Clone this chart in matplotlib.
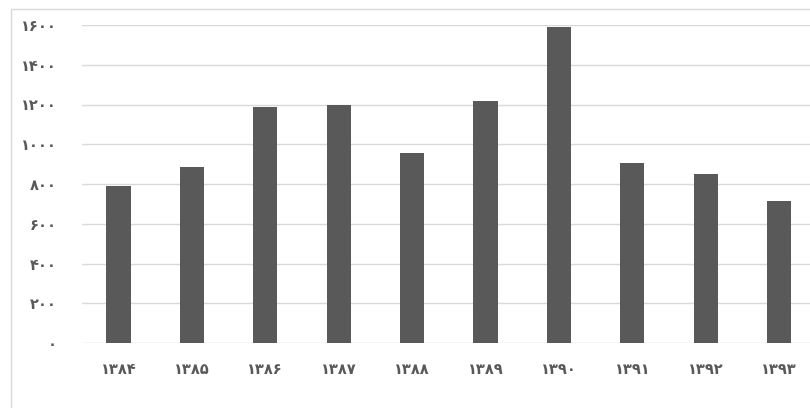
import matplotlib.pyplot as plt
from matplotlib.patches import Rectangle

# سال‌ها و مقادیر
years = ['۱۳۸۴', '۱۳۸۵', '۱۳۸۶', '۱۳۸۷', '۱۳۸۸', '۱۳۸۹', '۱۳۹۰', '۱۳۹۱', '۱۳۹۲', '۱۳۹۳']
values = [790, 886, 1185, 1197, 955, 1218, 1592, 905, 851, 715]
y_ticks = [0, 200, 400, 600, 800, 1000, 1200, 1400, 1600]
y_tick_labels = ['۰', '۲۰۰', '۴۰۰', '۶۰۰', '۸۰۰', '۱۰۰۰', '۱۲۰۰', '۱۴۰۰', '۱۶۰۰']

plt.rcParams['font.family'] = ['DejaVu Sans', 'Noto Sans']

W, H, dpi = 810, 408, 100
fig = plt.figure(figsize=(W / dpi, H / dpi), dpi=dpi)
fig.patch.set_facecolor('white')

# chart area frame (runs off the right and bottom edges)
fig.patches.append(Rectangle((11 / W, -0.1), 1.2, 1.1 - 9 / H,
                             transform=fig.transFigure, fill=False,
                             edgecolor='#d9d9d9', linewidth=1.0))

ax = fig.add_axes([81.8 / W, 1 - 343 / H, 734 / W, 318 / H])
x = range(len(years))
ax.bar(x, values, width=0.33, color='#595959', zorder=3)

ax.set_xlim(-0.5, len(years) - 0.5)
ax.set_ylim(0, 1600)
ax.set_yticks(y_ticks)
ax.set_yticklabels(y_tick_labels)
ax.set_xticks(list(x))
ax.set_xticklabels(years)

ax.grid(axis='y', color='#d9d9d9', linewidth=1.0, zorder=0)
ax.set_axisbelow(True)
for s in ax.spines.values():
    s.set_visible(False)
ax.tick_params(axis='both', length=0, colors='#595959', labelsize=10.5)
ax.tick_params(axis='y', pad=18)
ax.tick_params(axis='x', pad=14)
for lab in ax.get_xticklabels() + ax.get_yticklabels():
    lab.set_fontweight('bold')

fig.savefig('out.png', dpi=dpi, facecolor='white')
